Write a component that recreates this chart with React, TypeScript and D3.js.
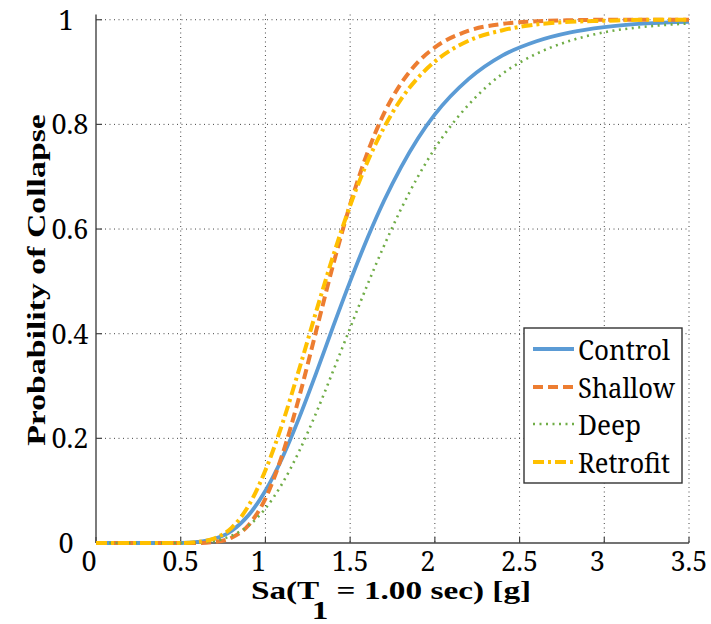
import React from "react";
import * as d3 from "d3";

const xValues = [0, 0.5, 0.6, 0.7, 0.8, 0.9, 1.0, 1.1, 1.2, 1.3, 1.4, 1.5, 1.6, 1.7, 1.8, 1.9, 2.0, 2.2, 2.4, 2.6, 2.8, 3.0, 3.25, 3.5];
const controlValues = [0, 0, 0.002, 0.008, 0.023, 0.053, 0.1, 0.163, 0.24, 0.325, 0.414, 0.5, 0.581, 0.654, 0.718, 0.773, 0.819, 0.887, 0.932, 0.959, 0.976, 0.986, 0.993, 0.996];
const shallowValues = [0, 0, 0, 0.002, 0.01, 0.034, 0.085, 0.169, 0.28, 0.406, 0.532, 0.647, 0.744, 0.821, 0.878, 0.919, 0.947, 0.979, 0.992, 0.997, 0.999, 1.0, 1.0, 1.0];
const deepValues = [0, 0, 0.001, 0.004, 0.014, 0.033, 0.066, 0.114, 0.176, 0.249, 0.329, 0.411, 0.492, 0.568, 0.638, 0.7, 0.754, 0.838, 0.897, 0.935, 0.96, 0.976, 0.987, 0.993];
const retrofitValues = [0, 0, 0.002, 0.009, 0.029, 0.071, 0.139, 0.228, 0.333, 0.443, 0.549, 0.645, 0.727, 0.794, 0.848, 0.889, 0.92, 0.96, 0.98, 0.991, 0.996, 0.998, 1.0, 1.0];

const seriesNames = ["Control", "Shallow", "Deep", "Retrofit"];
const legendWidths = [92, 97, 63, 92];
const xTicks = [0, 0.5, 1, 1.5, 2, 2.5, 3, 3.5];
const yTicks = [0, 0.2, 0.4, 0.6, 0.8, 1];

const styles = [
  { color: "#5B9BD5", width: 3.8, dash: "none" },
  { color: "#ED7D31", width: 4, dash: "10,5" },
  { color: "#70AD47", width: 2.6, dash: "2,4.5" },
  { color: "#FFC000", width: 4, dash: "11,4,3,4" },
];

const REG = "'Noto Serif', 'DejaVu Serif', serif";
const BOLD = "'Liberation Serif', 'Times New Roman', serif";

export default function App() {
  const x = d3.scaleLinear().domain([0, 3.5]).range([96, 689]);
  const y = d3.scaleLinear().domain([0, 1.01]).range([543, 14.5]);
  const allSeries = [controlValues, shallowValues, deepValues, retrofitValues];
  const line = d3
    .line<number>()
    .x((_, i) => x(xValues[i]))
    .y((d) => y(d))
    .curve(d3.curveMonotoneX);

  const top = y.range()[1];
  const bottom = y.range()[0];
  const legendRows = [349, 387, 424, 462];
  const rs = { fontFamily: REG };
  const bs = { fontFamily: BOLD };

  return (
    <svg width={711} height={624} style={{ position: "absolute", left: 0, top: 0, background: "#fff" }}>
      <rect x={0} y={0} width={711} height={624} fill="#fff" />
      {xTicks.slice(1).map((t) => (
        <line key={"gx" + t} x1={x(t)} x2={x(t)} y1={top} y2={bottom} stroke="#444" strokeWidth={1} strokeDasharray="1,3.5" />
      ))}
      {yTicks.slice(1).map((t) => (
        <line key={"gy" + t} x1={x(0)} x2={x(3.5)} y1={y(t)} y2={y(t)} stroke="#444" strokeWidth={1} strokeDasharray="1,3.5" />
      ))}
      <line x1={x(0)} x2={x(0)} y1={top} y2={bottom} stroke="#444" strokeWidth={1.4} />
      <line x1={x(0)} x2={x(3.5)} y1={bottom} y2={bottom} stroke="#444" strokeWidth={1.4} />
      {xTicks.map((t) => (
        <line key={"tx" + t} x1={x(t)} x2={x(t)} y1={bottom} y2={bottom - 6} stroke="#444" strokeWidth={1.2} />
      ))}
      {yTicks.map((t) => (
        <line key={"ty" + t} x1={x(0)} x2={x(0) + 6} y1={y(t)} y2={y(t)} stroke="#444" strokeWidth={1.2} />
      ))}
      {xTicks.map((t) => (
        <text
          key={"lx" + t}
          x={x(t) + (Number.isInteger(t) ? -7 : 0)}
          y={571}
          fontSize={27}
          textAnchor="middle"
          fill="#000"
          style={rs}
        >
          {String(t)}
        </text>
      ))}
      {yTicks.map((t) => (
        <text
          key={"ly" + t}
          x={Number.isInteger(t) ? 66 : 70}
          y={y(t) + 10}
          fontSize={27}
          textAnchor="middle"
          fill="#000"
          style={rs}
        >
          {String(t)}
        </text>
      ))}
      {allSeries.map((s, i) => (
        <path
          key={seriesNames[i]}
          d={line(s) || ""}
          fill="none"
          stroke={styles[i].color}
          strokeWidth={styles[i].width}
          strokeDasharray={styles[i].dash}
          strokeLinejoin="round"
        />
      ))}
      <rect x={524} y={328} width={158} height={155} fill="#fff" stroke="#333" strokeWidth={1.4} />
      {seriesNames.map((n, i) => (
        <g key={"lg" + n}>
          <line
            x1={533}
            x2={574}
            y1={legendRows[i]}
            y2={legendRows[i]}
            stroke={styles[i].color}
            strokeWidth={styles[i].width}
            strokeDasharray={styles[i].dash}
          />
          <text
            x={578}
            y={legendRows[i] + 11}
            fontSize={27}
            fill="#000"
            style={rs}
            textLength={legendWidths[i]}
            lengthAdjust="spacingAndGlyphs"
          >
            {n}
          </text>
        </g>
      ))}
      <g transform="translate(391,599) scale(1.28,1)">
        <text textAnchor="middle" fontSize={26} fontWeight="bold" fill="#000" style={bs}>
          Sa(T
          <tspan dx={-6} dy={20}>1</tspan>
          <tspan dy={-20}> = 1.00 sec) [g]</tspan>
        </text>
      </g>
      <g transform="translate(45,280) rotate(-90) scale(1.3,1)">
        <text textAnchor="middle" fontSize={26} fontWeight="bold" fill="#000" style={bs}>
          Probability of Collapse
        </text>
      </g>
    </svg>
  );
}
